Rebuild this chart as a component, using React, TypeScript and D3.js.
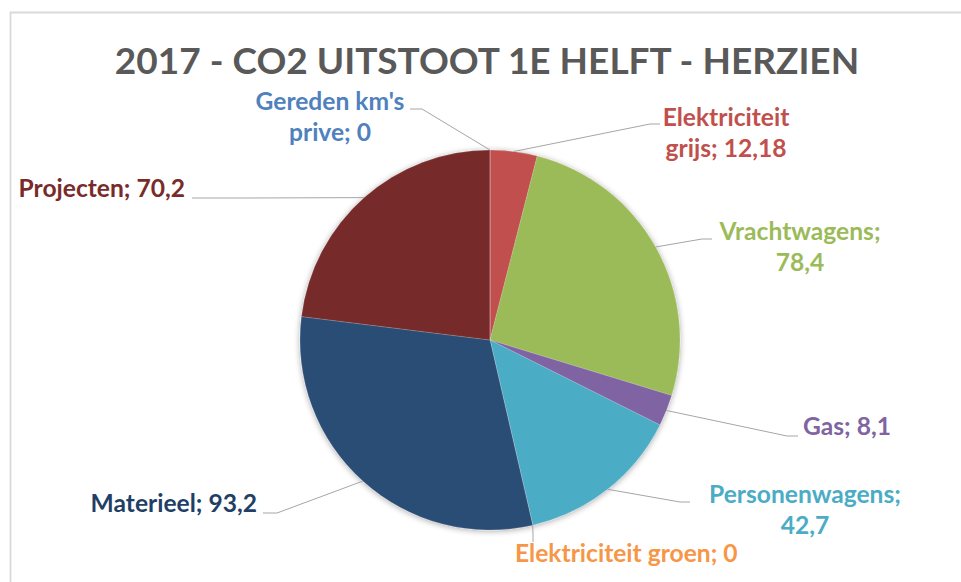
import React from "react";
import * as d3 from "d3";

const categories = [
  "Elektriciteit grijs",
  "Vrachtwagens",
  "Gas",
  "Personenwagens",
  "Elektriciteit groen",
  "Materieel",
  "Projecten",
  "Gereden km's prive",
];
const values = [12.18, 78.4, 8.1, 42.7, 0, 93.2, 70.2, 0];
const colors = ["#C0504D", "#9BBB59", "#8064A2", "#4BACC6", "#F79646", "#2C4D75", "#772C2A", "#4F81BD"];
const textColors = ["#C0504D", "#9BBB59", "#8064A2", "#4BACC6", "#F79646", "#1F3F66", "#772C2A", "#4F81BD"];
const title = "2017 - CO2 UITSTOOT 1E HELFT - HERZIEN";

// label layout: lines, anchor point, elbow points of leader
const labelLayout = [
  { lines: ["Elektriciteit", "grijs; 12,18"], x: 726, y: 126, anchor: "middle", elbow: [650, 124], end: [660, 124] },
  { lines: ["Vrachtwagens;", "78,4"], x: 800, y: 240, anchor: "middle", elbow: [702, 239], end: [712, 239] },
  { lines: ["Gas; 8,1"], x: 803, y: 435, anchor: "start", elbow: [787, 436], end: [798, 436] },
  { lines: ["Personenwagens;", "42,7"], x: 805, y: 503, anchor: "middle", elbow: [680, 502], end: [690, 502] },
  { lines: ["Elektriciteit groen; 0"], x: 515, y: 562, anchor: "start", elbow: [533, 535], end: [533, 542] },
  { lines: ["Materieel; 93,2"], x: 257, y: 512, anchor: "end", elbow: [277, 513], end: [263, 513] },
  { lines: ["Projecten; 70,2"], x: 185, y: 197, anchor: "end", elbow: [250, 198], end: [192, 198] },
  { lines: ["Gereden km's", "prive; 0"], x: 330, y: 110, anchor: "middle", elbow: [422, 109], end: [410, 109] },
];

export default function App() {
  const W = 961, H = 582;
  const cx = 490, cy = 340, r = 190;
  const pie = d3.pie<number>().sort(null).value((d) => d);
  const arcs = pie(values);
  const arc = d3.arc<d3.PieArcDatum<number>>().innerRadius(0).outerRadius(r);
  const font = "Lato, 'Open Sans', sans-serif";

  return (
    <svg width={W} height={H} style={{ position: "absolute", left: 0, top: 0, background: "#fff" }}>
      <defs>
        <filter id="shadow" x="-20%" y="-20%" width="140%" height="140%">
          <feGaussianBlur in="SourceAlpha" stdDeviation="3" />
          <feOffset dx="0" dy="1" result="b" />
          <feComponentTransfer>
            <feFuncA type="linear" slope="0.35" />
          </feComponentTransfer>
          <feMerge>
            <feMergeNode />
            <feMergeNode in="SourceGraphic" />
          </feMerge>
        </filter>
      </defs>
      <rect x={0} y={0} width={W} height={H} fill="#fff" />
      <path d={`M10.5,${H} L10.5,12.5 L${W},12.5`} fill="none" stroke="#d9d9d9" strokeWidth={1.8} />
      <text x={487} y={74} textAnchor="middle" fontFamily={font} fontWeight={700} fontSize={37} fill="#595959">
        {title}
      </text>
      <g transform={`translate(${cx},${cy})`} filter="url(#shadow)">
        {arcs.map((a, i) => (
          <path key={categories[i]} d={arc(a) || ""} fill={colors[i]} stroke="#ffffff" strokeOpacity={0.25} strokeWidth={0.6} />
        ))}
      </g>
      {arcs.map((a, i) => {
        const L = labelLayout[i];
        const mid = (a.startAngle + a.endAngle) / 2;
        const sx = cx + r * Math.sin(mid);
        const sy = cy - r * Math.cos(mid);
        return (
          <g key={"l" + i}>
            <polyline
              points={`${sx},${sy} ${L.elbow[0]},${L.elbow[1]} ${L.end[0]},${L.end[1]}`}
              fill="none"
              stroke="#a6a6a6"
              strokeWidth={1}
            />
            <text x={L.x} y={L.y} textAnchor={L.anchor as any} fontFamily={font} fontWeight={700} fontSize={24.6} fill={textColors[i]}>
              {L.lines.map((ln, j) => (
                <tspan key={j} x={L.x} dy={j === 0 ? 0 : 31}>
                  {ln}
                </tspan>
              ))}
            </text>
          </g>
        );
      })}
    </svg>
  );
}
